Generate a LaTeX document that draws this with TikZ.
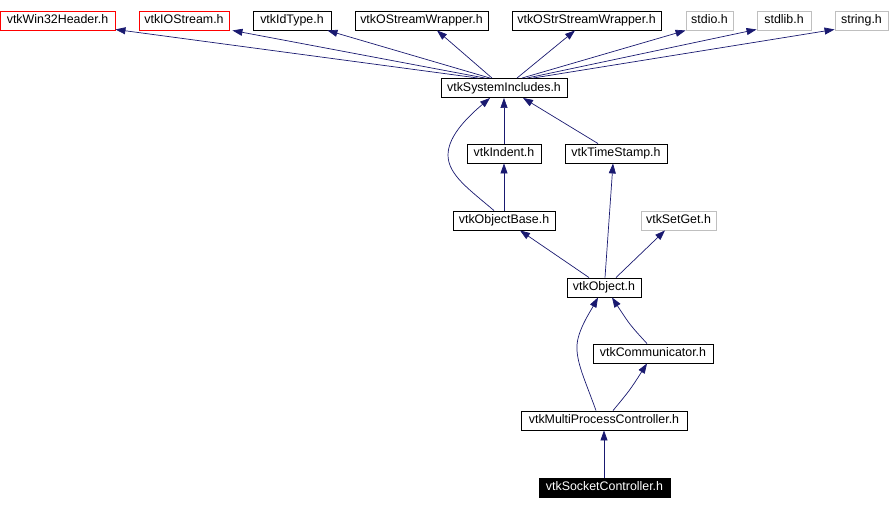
\documentclass[tikz,border=0pt]{standalone}
\usepackage{fontspec}
\setmainfont{Liberation Sans}
\usetikzlibrary{arrows.meta,calc}
\definecolor{edgecol}{HTML}{191970}
\definecolor{graybox}{HTML}{BFBFBF}
\begin{document}
\begin{tikzpicture}[x=1pt,y=-1pt,
  hbox/.style={draw=black, line width=0.9pt, inner sep=0pt, minimum height=19pt,
    text height=9pt, text depth=3pt,
    font=\fontsize{12.4}{12.4}\selectfont, fill=white},
  redbox/.style={hbox, draw=red},
  greybox/.style={hbox, draw=graybox},
  selbox/.style={hbox, fill=black, text=white},
  dep/.style={draw=edgecol, line width=0.7pt, -{Triangle[length=10pt,width=7pt]}, color=edgecol}]
\useasboundingbox (0,0) rectangle (890,509);
% top row
\node[redbox, minimum width=115pt] (win) at (57.5,20.5) {vtkWin32Header.h};
\node[redbox, minimum width=90pt] (ios) at (184,20.5) {vtkIOStream.h};
\node[hbox, minimum width=78pt] (idt) at (292,20.5) {vtkIdType.h};
\node[hbox, minimum width=133pt] (osw) at (421.5,20.5) {vtkOStreamWrapper.h};
\node[hbox, minimum width=149pt] (ossw) at (586.5,20.5) {vtkOStrStreamWrapper.h};
\node[greybox, minimum width=47pt] (stdio) at (709.5,20.5) {stdio.h};
\node[greybox, minimum width=54pt] (stdlib) at (784,20.5) {stdlib.h};
\node[greybox, minimum width=53pt] (string) at (861.5,20.5) {string.h};
% middle
\node[hbox, minimum width=126pt] (sys) at (504,88) {vtkSystemIncludes.h};
\node[hbox, minimum width=74pt] (ind) at (504,153.5) {vtkIndent.h};
\node[hbox, minimum width=102pt] (ts) at (616,153.5) {vtkTimeStamp.h};
\node[hbox, minimum width=102pt] (ob) at (504,220.5) {vtkObjectBase.h};
\node[greybox, minimum width=75pt] (sg) at (678.5,220.5) {vtkSetGet.h};
\node[hbox, minimum width=74pt] (obj) at (604,287.5) {vtkObject.h};
\node[hbox, minimum width=120pt] (com) at (653,353.5) {vtkCommunicator.h};
\node[hbox, minimum width=166pt] (mpc) at (604,420.5) {vtkMultiProcessController.h};
\node[selbox, minimum width=131pt] (sock) at (604.5,487.5) {vtkSocketController.h};
% edges to top row
\draw[dep] ([xshift=-26pt]sys.north) -- ([yshift=1pt]win.south east);
\draw[dep] ([xshift=-19pt]sys.north) -- ([xshift=3pt]ios.south east);
\draw[dep] ([xshift=-14pt]sys.north) -- ([xshift=-4pt]idt.south east);
\draw[dep] ([xshift=-12pt]sys.north) -- ([xshift=15.5pt]osw.south);
\draw[dep] ([xshift=13pt]sys.north) -- ([xshift=-11.5pt]ossw.south);
\draw[dep] ([xshift=18pt]sys.north) -- (stdio.south west);
\draw[dep] ([xshift=23pt]sys.north) -- ([yshift=1pt]stdlib.south west);
\draw[dep] ([xshift=29pt]sys.north) -- ([yshift=1pt]string.south west);
% middle edges
\draw[dep] (ind.north) -- (sys.south);
\draw[dep] ([xshift=-18pt]ts.north) -- ([xshift=19pt]sys.south);
\draw[dep] ([xshift=-10pt]ob.north) .. controls (470,190) and (448,175) .. (448,155)
  .. controls (448,135) and (470,115) .. ([xshift=-14pt]sys.south);
\draw[dep] (ob.north) -- (ind.south);
\draw[dep] ([xshift=-15pt]obj.north) -- ([xshift=16pt]ob.south);
\draw[dep] ([xshift=1pt]obj.north) -- ([xshift=-3pt]ts.south);
\draw[dep] ([xshift=12pt]obj.north) -- ([xshift=-13.5pt]sg.south);
\draw[dep] ([xshift=-6pt]com.north) .. controls (630,325) .. ([xshift=8pt]obj.south);
\draw[dep] ([xshift=-8pt]mpc.north) .. controls (585,380) and (576,362) .. (577,345)
  .. controls (578,330) and (590,312) .. ([xshift=-6pt]obj.south);
\draw[dep] ([xshift=9pt]mpc.north) .. controls (630,390) .. ([xshift=-6pt]com.south);
\draw[dep] ([xshift=-0.5pt]sock.north) -- (mpc.south);
\end{tikzpicture}
\end{document}
